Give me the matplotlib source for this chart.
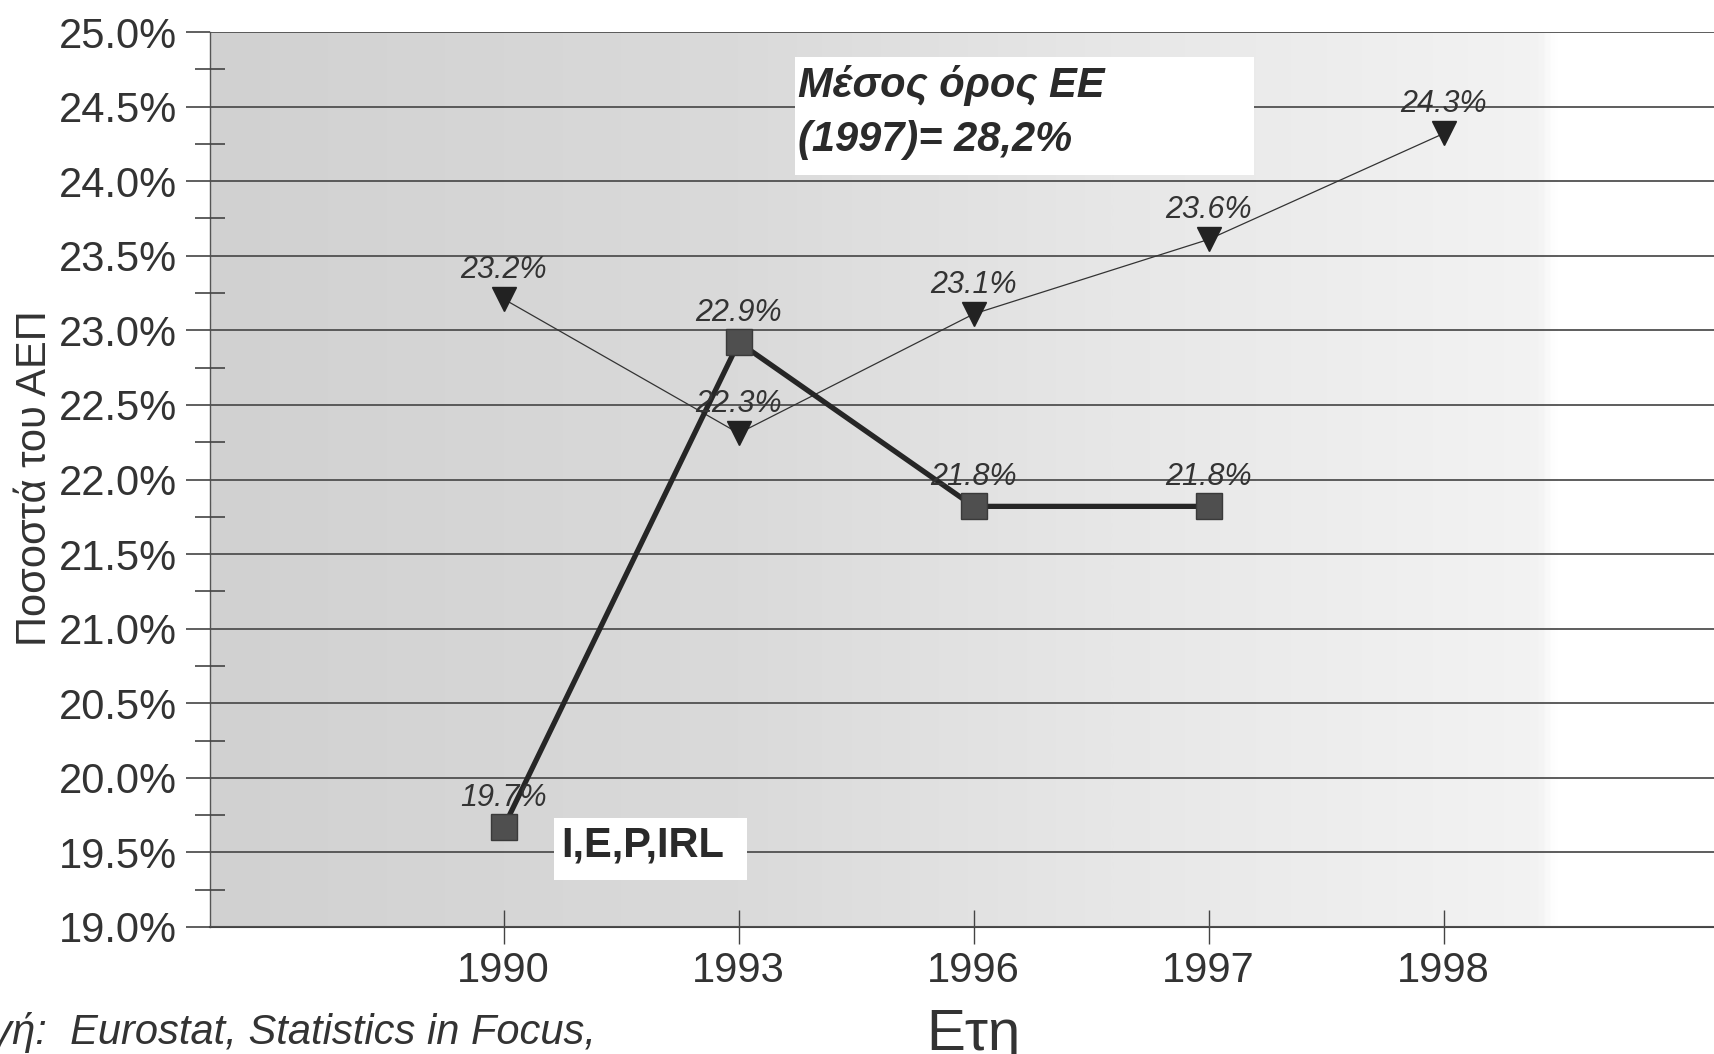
import numpy as np
import matplotlib
matplotlib.use("Agg")
import matplotlib.pyplot as plt
from matplotlib.patches import Rectangle
from matplotlib.ticker import MultipleLocator, FuncFormatter
from matplotlib.colors import LinearSegmentedColormap

plt.rcParams['font.family'] = ['Liberation Sans', 'DejaVu Sans']

# data
years = ['1990', '1993', '1996', '1997', '1998']
iepirl = [19.67, 22.92, 21.82, 21.82]       # I,E,P,IRL (thick line, squares)
greece = [23.21, 22.31, 23.11, 23.61, 24.32]  # thin line, triangles

fig = plt.figure(figsize=(17.14, 10.54), dpi=100)
ax = fig.add_axes([0.1225, 0.1205, 0.8775, 0.8491])

# grey-to-white background like the scan
cmap = LinearSegmentedColormap.from_list(
    'bg', [(0.0, '#d1d1d1'), (0.35, '#dadada'), (0.6, '#e7e7e7'),
           (0.885, '#f3f3f3'), (0.895, '#ffffff'), (1.0, '#ffffff')])
grad = np.linspace(0, 1, 512).reshape(1, -1)
ax.imshow(grad, cmap=cmap, aspect='auto', extent=[0, 1, 0, 1],
          transform=ax.transAxes, zorder=0)

ax.set_xlim(-1.25, 5.15)
ax.set_ylim(19.0, 25.0)

x1 = np.arange(len(iepirl))
x2 = np.arange(len(greece))

ax.plot(x2, greece, color='#333333', lw=0.9, marker='v', markersize=17,
        markerfacecolor='#222222', markeredgecolor='#222222', zorder=3)
ax.plot(x1, iepirl, color='#262626', lw=3.8, marker='s', markersize=19,
        markerfacecolor='#4f4f4f', markeredgecolor='#3a3a3a', zorder=4)

for xs, ys in [(x2, greece), (x1, iepirl)]:
    for x, y in zip(xs, ys):
        ax.annotate(f'{y:.1f}%', (x, y), xytext=(0, 21), textcoords='offset points',
                    ha='center', va='center', fontsize=22, style='italic',
                    color='#333333', zorder=5)

# axes styling
ax.yaxis.set_major_locator(MultipleLocator(0.5))
ax.yaxis.set_minor_locator(MultipleLocator(0.25))
ax.yaxis.set_major_formatter(FuncFormatter(lambda v, p: f'{v:.1f}%'))
ax.set_xticks(x2)
ax.set_xticklabels(years)
ax.grid(axis='y', which='major', color='#505050', lw=1.3, zorder=1)
ax.set_axisbelow(False)
for gl in ax.get_ygridlines():
    gl.set_zorder(1)

ax.tick_params(axis='y', which='major', direction='out', length=17, width=1.2,
               color='#444444', labelsize=30, labelcolor='#333333', pad=7)
ax.tick_params(axis='y', which='minor', direction='inout', length=22, width=1.2,
               color='#444444')
ax.tick_params(axis='x', which='major', direction='inout', length=24, width=1,
               color='#444444', labelsize=30, labelcolor='#333333', pad=5)

for s in ['top', 'right']:
    ax.spines[s].set_visible(False)
ax.spines['left'].set_color('#555555')
ax.spines['left'].set_linewidth(1.0)
ax.spines['bottom'].set_color('#444444')
ax.spines['bottom'].set_linewidth(1.5)

fig.text(0.0204, 0.546, 'Ποσοστά του ΑΕΠ', rotation=90, ha='center', va='center',
         fontsize=30, color='#333333')
fig.text(0.5677, 0.004, 'Ετη', ha='center', va='baseline', fontsize=42, color='#333333')
fig.text(0.348, 0.0095, 'Πηγή:  Eurostat, Statistics in Focus,', ha='right', va='baseline',
         fontsize=30, style='italic', color='#333333')

# white label boxes
fig.patches.append(Rectangle((0.4638, 0.834), 0.2678, 0.112, transform=fig.transFigure,
                             facecolor='white', edgecolor='none', zorder=2))
fig.text(0.4655, 0.893, 'Μέσος όρος ΕΕ\n(1997)= 28,2%', ha='left', va='center',
         fontsize=30, weight='bold', style='italic', color='#2a2a2a', linespacing=1.45,
         zorder=3)
fig.patches.append(Rectangle((0.3232, 0.165), 0.1126, 0.0588, transform=fig.transFigure,
                             facecolor='white', edgecolor='none', zorder=2))
fig.text(0.3272, 0.198, 'I,E,P,IRL', ha='left', va='center', fontsize=30,
         weight='bold', color='#2a2a2a', zorder=3)

fig.savefig('out.png', dpi=100)
